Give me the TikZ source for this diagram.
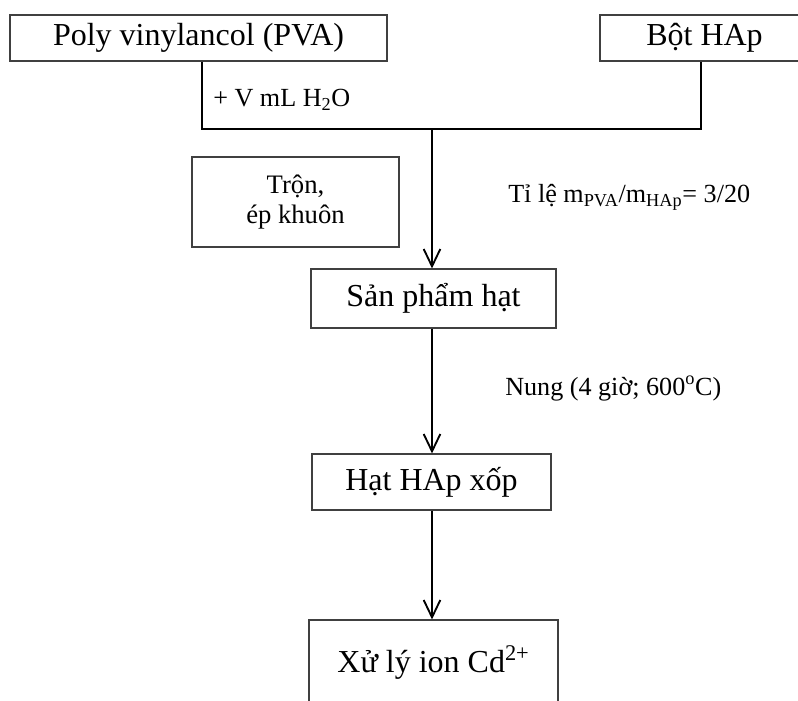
\documentclass[tikz,border=0pt]{standalone}
\usepackage{fontspec}
\setmainfont{Liberation Serif}
\usetikzlibrary{arrows.meta}
\begin{document}
\begin{tikzpicture}[x=0.75pt,y=-0.75pt,
  box/.style={draw=black!75,line width=0.8pt,inner sep=0pt,align=center,font=\fontsize{24}{28}\selectfont},
  smallbox/.style={box,font=\fontsize{20}{23}\selectfont},
  lbl/.style={inner sep=0pt,anchor=base west,font=\fontsize{19.6}{23}\selectfont},
  conn/.style={line width=1.6pt,black},
  arr/.style={conn,-{Straight Barb[length=13pt,width=12.5pt,line width=1.4pt]}}]
\useasboundingbox (0,0) rectangle (798,700);
\node[box,minimum width=377*0.75pt,minimum height=46*0.75pt] (pva) at (198.5,38) {Poly vinylancol (PVA)};
\node[box,minimum width=209*0.75pt,minimum height=46*0.75pt] (bot) at (704.5,38) {Bột HAp};
\node[smallbox,minimum width=207*0.75pt,minimum height=90*0.75pt] (tron) at (295.5,202) {Trộn,\\ép khuôn};
\node[box,minimum width=245*0.75pt,minimum height=59*0.75pt] (sp) at (433.5,298.5) {Sản phẩm hạt};
\node[box,minimum width=239*0.75pt,minimum height=56*0.75pt] (hat) at (431.5,482) {Hạt HAp xốp};
\node[box,minimum width=249*0.75pt,minimum height=86*0.75pt] (xl) at (433.5,663) {Xử lý ion Cd\textsuperscript{2+}};
\coordinate (j1) at (202,129);
\coordinate (j2) at (701,129);
\coordinate (a0) at (432,129);
\draw[conn] (pva.south -| j1) -- (j1) -- (j2) -- (bot.south -| j2);
\draw[arr] (a0) -- (sp.north -| a0);
\draw[arr] (sp.south -| a0) -- (hat.north -| a0);
\draw[arr] (hat.south -| a0) -- (xl.north -| a0);
\node[lbl] (h2o) at (213,106) {+ V mL H\textsubscript{2}O};
\node[lbl] (tile) at (508,202) {Tỉ lệ m\textsubscript{PVA}/m\textsubscript{HAp}= 3/20};
\node[lbl] (nung) at (505,395) {Nung (4 giờ; 600\textsuperscript{o}C)};
\end{tikzpicture}
\end{document}
